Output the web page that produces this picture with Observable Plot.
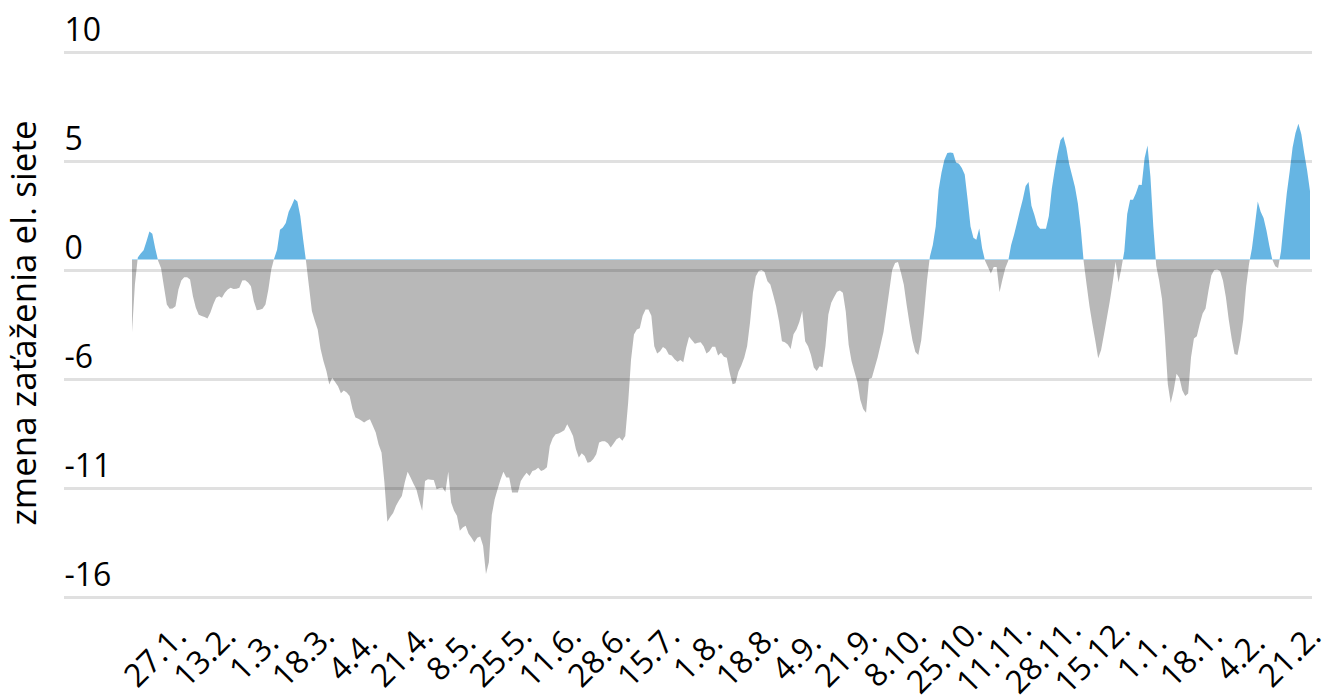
<!DOCTYPE html>
<html><head><meta charset="utf-8">
<script src="https://cdn.jsdelivr.net/npm/d3@7"></script>
<script src="https://cdn.jsdelivr.net/npm/@observablehq/plot@0.6"></script>
<style>
html,body{margin:0;padding:0;background:#fff;}
#chart{width:1326px;height:696px;overflow:hidden;}
</style></head><body><div id="chart"></div>
<script>
// first day of the daily series
const startDate = "2020-01-19";
// daily values (change of grid load), one per day from startDate
const values = [
  -3.5, -1.2, 0.1, 0.3, 0.45, 0.88, 1.35, 1.25, 0.55, -0.05,
  -0.4, -1.3, -2.16, -2.37, -2.35, -2.25, -1.44, -1.0, -0.85, -0.85,
  -0.96, -1.76, -2.32, -2.65, -2.72, -2.76, -2.84, -2.56, -2.16, -1.84,
  -1.76, -1.84, -1.6, -1.44, -1.36, -1.42, -1.4, -1.36, -1.01, -0.99,
  -1.1, -1.28, -2.0, -2.44, -2.42, -2.37, -2.16, -1.44, -0.48, 0.05,
  0.48, 1.44, 1.55, 1.76, 2.3, 2.6, 2.92, 2.8, 2.1, 0.96,
  -0.1, -1.3, -2.48, -2.95, -3.37, -4.3, -4.9, -5.37, -6.01, -5.69,
  -5.9, -6.1, -6.44, -6.3, -6.4, -6.57, -7.2, -7.61, -7.66, -7.75,
  -7.85, -7.75, -7.69, -8.0, -8.33, -8.9, -9.29, -10.74, -12.63, -12.4,
  -12.2, -11.86, -11.6, -11.38, -10.74, -10.22, -10.5, -10.8, -11.06, -11.6,
  -12.1, -10.66, -10.58, -10.6, -10.61, -11.06, -11.0, -10.98, -11.19, -10.22,
  -11.7, -12.1, -12.34, -13.06, -12.9, -12.82, -13.2, -13.4, -13.62, -13.4,
  -13.33, -13.78, -15.14, -14.58, -12.3, -11.54, -11.06, -10.6, -10.22, -10.5,
  -10.5, -11.22, -11.22, -11.22, -10.66, -10.45, -10.26, -10.42, -10.18, -10.13,
  -10.02, -10.18, -10.12, -10.0, -8.98, -8.6, -8.41, -8.37, -8.3, -8.22,
  -7.93, -8.2, -8.49, -9.13, -9.53, -9.33, -9.46, -9.78, -9.75, -9.6,
  -9.38, -8.81, -8.75, -8.75, -8.85, -9.05, -8.86, -8.65, -8.57, -8.73,
  -8.49, -6.89, -4.81, -3.61, -3.37, -3.3, -2.7, -2.4, -2.4, -2.7,
  -4.17, -4.52, -4.41, -4.21, -4.3, -4.57, -4.62, -4.8, -4.92, -4.84,
  -4.94, -4.25, -3.72, -3.88, -4.05, -4.0, -3.98, -4.17, -4.52, -4.41,
  -4.2, -4.2, -4.62, -4.49, -4.68, -4.73, -5.45, -6.0, -5.95, -5.4,
  -5.1, -4.73, -4.17, -3.04, -1.6, -0.8, -0.55, -0.5, -0.6, -1.04,
  -1.2, -1.7, -2.24, -2.97, -3.93, -3.98, -4.09, -4.3, -3.6, -3.37,
  -3.0, -2.48, -3.93, -4.17, -4.6, -5.2, -5.37, -5.13, -5.18, -4.17,
  -2.64, -2.08, -1.8, -1.55, -1.49, -1.6, -2.5, -4.1, -4.9, -5.4,
  -5.9, -6.75, -7.2, -7.37, -5.75, -5.69, -5.2, -4.7, -4.1, -3.49,
  -2.5, -1.5, -0.5, -0.16, -0.11, -0.62, -1.2, -2.2, -3.1, -3.9,
  -4.45, -4.6, -3.9, -2.56, -1.0, 0.15, 0.7, 1.6, 3.37, 4.2,
  4.81, 5.13, 5.16, 5.13, 4.68, 4.62, 4.41, 4.1, 2.9, 1.6,
  1.05, 0.96, 1.5, 0.55, -0.05, -0.35, -0.67, -0.35, -0.35, -1.57,
  -0.96, -0.4, -0.05, 0.7, 1.2, 1.76, 2.35, 2.9, 3.55, 3.74,
  2.6, 2.16, 1.65, 1.49, 1.49, 1.49, 2.1, 3.4, 4.3, 5.1,
  5.75, 5.93, 5.4, 4.6, 4.05, 3.5, 2.7, 1.5, -0.1, -1.2,
  -2.24, -3.1, -3.9, -4.75, -4.35, -3.6, -2.8, -2.0, -1.1, -0.1,
  -1.1, -0.4, 0.4, 2.2, 2.88, 2.88, 3.2, 3.61, 3.6, 4.9,
  5.5, 4.0, 1.6, -0.3, -1.0, -1.9, -3.7, -6.0, -6.9, -6.3,
  -5.5, -5.7, -6.3, -6.57, -6.45, -4.7, -3.8, -3.69, -3.1, -2.6,
  -2.35, -1.5, -0.75, -0.5, -0.48, -0.55, -1.0, -1.8, -2.9, -3.8,
  -4.55, -4.6, -3.9, -2.9, -1.3, -0.2, 0.55, 1.65, 2.8, 2.3,
  2.0, 1.4, 0.65, 0.0, -0.32, -0.4, 0.4, 1.85, 3.2, 4.25,
  5.4, 6.1, 6.55, 6.05, 5.13, 4.3, 3.3
];
// x tick dates (every 17 days)
const xTickDates = [
  "2020-01-27","2020-02-13","2020-03-01","2020-03-18","2020-04-04","2020-04-21",
  "2020-05-08","2020-05-25","2020-06-11","2020-06-28","2020-07-15","2020-08-01",
  "2020-08-18","2020-09-04","2020-09-21","2020-10-08","2020-10-25","2020-11-11",
  "2020-11-28","2020-12-15","2021-01-01","2021-01-18","2021-02-04","2021-02-21"
];
// y ticks and their labels
const yTicks = [10, 4.75, -0.5, -5.75, -11, -16.25];
const yTickLabels = ["10", "5", "0", "-6", "-11", "-16"];
const yTitle = "zmena zaťaženia el. siete";
const colorAbove = "#66b5e3";
const colorBelow = "#b8b8b8";

const start = new Date(startDate + "T00:00:00Z");
const data = values.map((v, i) => ({date: d3.utcDay.offset(start, i), value: v}));
const ticks = xTickDates.map(s => new Date(s + "T00:00:00Z"));
const fmt = d3.utcFormat("%-d.%-m.");

function splitGradient(index, scales, vals, dims) {
  const ns = "http://www.w3.org/2000/svg";
  const defs = document.createElementNS(ns, "defs");
  const lg = document.createElementNS(ns, "linearGradient");
  lg.setAttribute("id", "splitfill");
  lg.setAttribute("gradientUnits", "userSpaceOnUse");
  lg.setAttribute("x1", 0); lg.setAttribute("x2", 0);
  lg.setAttribute("y1", 0); lg.setAttribute("y2", dims.height);
  const off = scales.y(0) / dims.height;
  [[0, colorAbove], [off, colorAbove], [off, colorBelow], [1, colorBelow]].forEach(([o, c]) => {
    const s = document.createElementNS(ns, "stop");
    s.setAttribute("offset", o);
    s.setAttribute("stop-color", c);
    lg.appendChild(s);
  });
  defs.appendChild(lg);
  return defs;
}

const chart = Plot.plot({
  width: 1326,
  height: 696,
  marginTop: 52,
  marginBottom: 99,
  marginLeft: 132,
  marginRight: 16,
  style: {fontFamily: "'Open Sans', 'Noto Sans', sans-serif", background: "#fff", color: "#000"},
  x: {type: "utc", domain: d3.extent(data, d => d.date), axis: null},
  y: {domain: [-16.25, 10], axis: null},
  marks: [
    splitGradient,
    Plot.areaY(data, {x: "date", y1: 0, y2: "value", fill: "url(#splitfill)", curve: "linear"}),
    Plot.ruleY(yTicks, {stroke: "#000", strokeOpacity: 0.12, strokeWidth: 3, insetLeft: -68, insetRight: -2}),
    Plot.text(yTicks, {y: d => d, text: (d, i) => yTickLabels[i], frameAnchor: "left", dx: -68,
      textAnchor: "start", lineAnchor: "bottom", dy: -12, fontSize: 32, fill: "#000"}),
    Plot.text(ticks, {x: d => d, text: d => fmt(d), frameAnchor: "bottom", dy: 59, rotate: -45,
      textAnchor: "middle", lineAnchor: "middle", fontSize: 32, fill: "#000"}),
    Plot.text([yTitle], {frameAnchor: "left", dx: -108, dy: -2, rotate: -90, textAnchor: "middle",
      lineAnchor: "middle", fontSize: 35, fill: "#000"})
  ]
});
document.getElementById("chart").appendChild(chart);
</script></body></html>
